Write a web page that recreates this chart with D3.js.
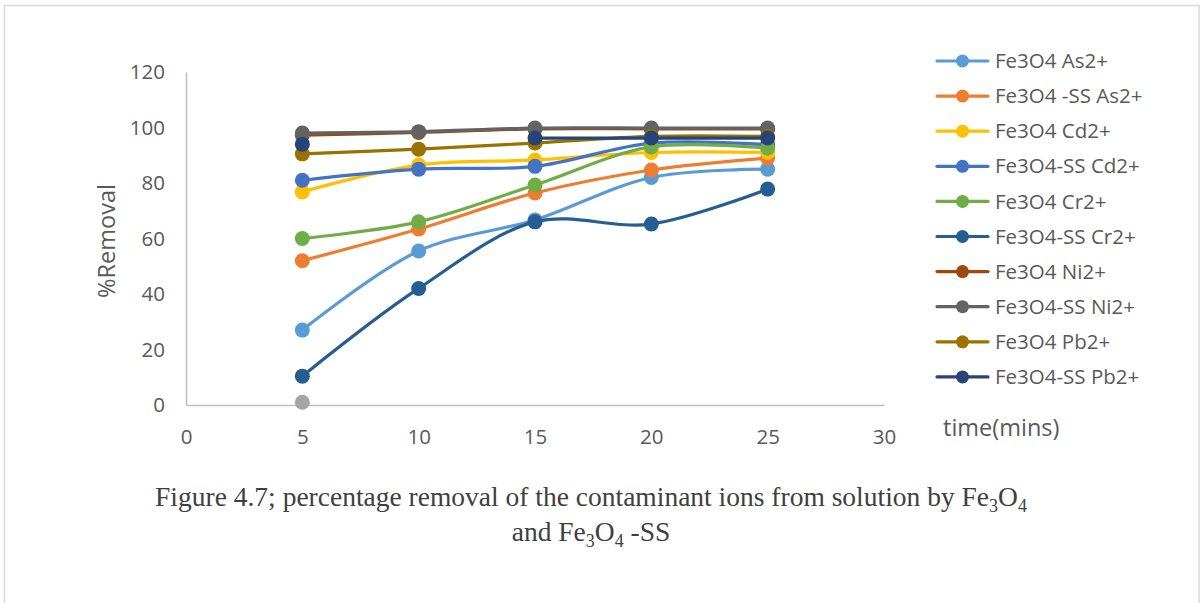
<!DOCTYPE html>
<html>
<head>
<meta charset="utf-8">
<script src="https://cdn.jsdelivr.net/npm/d3@7"></script>
<style>
  html, body { margin: 0; padding: 0; background: #fff; }
  svg { display: block; }
</style>
</head>
<body>
<svg id="chart" width="1201" height="603"></svg>
<script>
// Contact time in minutes
const times = [5, 10, 15, 20, 25];

// % removal per adsorbent / ion
const seriesNames = [
  "Fe3O4 As2+", "Fe3O4 -SS As2+", "Fe3O4 Cd2+", "Fe3O4-SS Cd2+", "Fe3O4 Cr2+",
  "Fe3O4-SS Cr2+", "Fe3O4 Ni2+", "Fe3O4-SS Ni2+", "Fe3O4 Pb2+", "Fe3O4-SS Pb2+"
];
const fe3o4As   = [27, 55.5, 66.7, 82, 85];
const fe3o4SsAs = [52, 63.4, 76.4, 84.7, 89];
const fe3o4Cd   = [76.8, 86.5, 88.3, 91, 91];
const fe3o4SsCd = [81, 85, 86, 94.4, 93.8];
const fe3o4Cr   = [60, 66, 79.3, 93, 92.5];
const fe3o4SsCr = [10.4, 42, 66, 65.2, 77.8];
const fe3o4Ni   = [97.2, 98.2, 99.5, 99.5, 99.5];
const fe3o4SsNi = [98, 98.5, 99.8, 99.8, 99.8];
const fe3o4Pb   = [90.5, 92.2, 94.4, 96.8, 96.8];
const fe3o4SsPb = [94, null, 96.2, 96.2, 96.2];
// stray point at 5 min that has no legend entry
const strayPoint = [1, null, null, null, null];

const seriesValues = [fe3o4As, fe3o4SsAs, fe3o4Cd, fe3o4SsCd, fe3o4Cr,
                      fe3o4SsCr, fe3o4Ni, fe3o4SsNi, fe3o4Pb, fe3o4SsPb];
const seriesColors = ["#5B9BD5", "#ED7D31", "#FFC000", "#4472C4", "#70AD47",
                      "#255E91", "#9E480E", "#636363", "#997300", "#264478"];

const xTicks = [0, 5, 10, 15, 20, 25, 30];
const yTicks = [0, 20, 40, 60, 80, 100, 120];

const svg = d3.select("#chart");

// outer chart frame
svg.append("rect")
  .attr("x", 4.5).attr("y", 5.5)
  .attr("width", 1194.5).attr("height", 620)
  .attr("fill", "none").attr("stroke", "#d9d9d9").attr("stroke-width", 1.5);

const x = d3.scaleLinear().domain([0, 30]).range([186, 884]);
const y = d3.scaleLinear().domain([0, 120]).range([405, 72]);

const axisFont = "'Open Sans', 'Noto Sans', sans-serif";
const textColor = "#595959";

// y axis
const gy = svg.append("g")
  .attr("transform", `translate(${x(0)},0)`)
  .call(d3.axisLeft(y).tickValues(yTicks).tickSize(0).tickPadding(21));
gy.select(".domain").attr("stroke", "#bfbfbf").attr("stroke-width", 1.5);
gy.selectAll("text").attr("font-family", axisFont).attr("font-size", 20.5)
  .attr("fill", textColor);

// x axis
const gx = svg.append("g")
  .attr("transform", `translate(0,${y(0)})`)
  .call(d3.axisBottom(x).tickValues(xTicks).tickSize(0).tickPadding(24));
gx.select(".domain").attr("stroke", "#bfbfbf").attr("stroke-width", 1.5);
gx.selectAll("text").attr("font-family", axisFont).attr("font-size", 20.5)
  .attr("fill", textColor);

// axis titles
svg.append("text")
  .attr("transform", "translate(115,241) rotate(-90)")
  .attr("text-anchor", "middle")
  .attr("font-family", axisFont).attr("font-size", 23.5).attr("fill", textColor)
  .text("%Removal");

svg.append("text")
  .attr("x", 943).attr("y", 436)
  .attr("font-family", axisFont).attr("font-size", 23.5).attr("fill", textColor)
  .text("time(mins)");

// series lines and markers
const line = d3.line()
  .defined(d => d.v !== null)
  .x(d => x(d.t)).y(d => y(d.v))
  .curve(d3.curveCatmullRom.alpha(0.5));

const plot = svg.append("g");

const stray = times.map((t, i) => ({ t, v: strayPoint[i] })).filter(d => d.v !== null);
plot.selectAll(".stray").data(stray).join("circle")
  .attr("cx", d => x(d.t)).attr("cy", d => y(d.v)).attr("r", 7.5)
  .attr("fill", "#A5A5A5");

seriesValues.forEach((vals, si) => {
  const pts = times.map((t, i) => ({ t, v: vals[i] }));
  const g = plot.append("g");
  g.append("path")
    .datum(pts)
    .attr("d", line)
    .attr("fill", "none")
    .attr("stroke", seriesColors[si])
    .attr("stroke-width", 3.2)
    .attr("stroke-linecap", "round");
  g.selectAll("circle").data(pts.filter(d => d.v !== null)).join("circle")
    .attr("cx", d => x(d.t)).attr("cy", d => y(d.v)).attr("r", 7.5)
    .attr("fill", seriesColors[si]);
});

// legend
const legend = svg.append("g");
seriesNames.forEach((name, i) => {
  const ly = 61 + i * 35.1;
  legend.append("line")
    .attr("x1", 937).attr("x2", 988).attr("y1", ly).attr("y2", ly)
    .attr("stroke", seriesColors[i]).attr("stroke-width", 3.2)
    .attr("stroke-linecap", "round");
  legend.append("circle")
    .attr("cx", 962.5).attr("cy", ly).attr("r", 6.5)
    .attr("fill", seriesColors[i]);
  legend.append("text")
    .attr("x", 995).attr("y", ly).attr("dy", "0.35em")
    .attr("font-family", axisFont).attr("font-size", 20.5).attr("fill", textColor)
    .text(name);
});

// caption
const serif = "'Liberation Serif', 'Times New Roman', serif";
const capSize = 27.5, subSize = 18, subShift = 6;

const cap = svg.append("text")
  .attr("text-anchor", "middle")
  .attr("font-family", serif)
  .attr("font-size", capSize).attr("fill", "#404040")
  .attr("x", 591).attr("y", 506);
cap.append("tspan").text("Figure 4.7; percentage removal of the contaminant ions from solution by Fe");
cap.append("tspan").attr("font-size", subSize).attr("dy", subShift).text("3");
cap.append("tspan").attr("dy", -subShift).text("O");
cap.append("tspan").attr("font-size", subSize).attr("dy", subShift).text("4");

const cap2 = svg.append("text")
  .attr("text-anchor", "middle")
  .attr("font-family", serif)
  .attr("font-size", capSize).attr("fill", "#404040")
  .attr("x", 591).attr("y", 541);
cap2.append("tspan").text("and Fe");
cap2.append("tspan").attr("font-size", subSize).attr("dy", subShift).text("3");
cap2.append("tspan").attr("dy", -subShift).text("O");
cap2.append("tspan").attr("font-size", subSize).attr("dy", subShift).text("4");
cap2.append("tspan").attr("dy", -subShift).text(" -SS");
</script>
</body>
</html>
